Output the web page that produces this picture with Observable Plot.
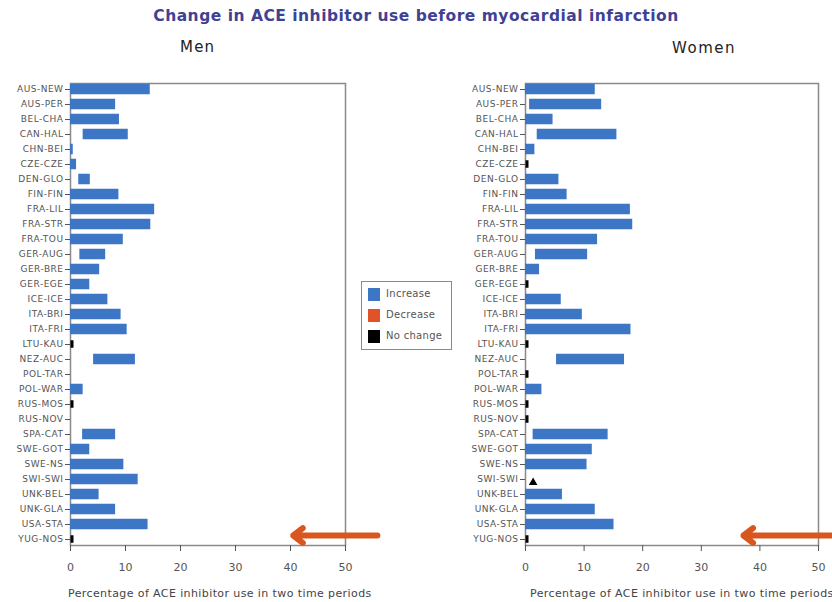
<!DOCTYPE html>
<html>
<head>
<meta charset="utf-8">
<script src="https://cdn.jsdelivr.net/npm/d3@7"></script>
<script src="https://cdn.jsdelivr.net/npm/@observablehq/plot@0.6"></script>
<style>
  html, body { margin: 0; padding: 0; background: #fff; width: 832px; height: 602px; overflow: hidden; }
  #wrap { position: relative; width: 832px; height: 602px; font-family: "DejaVu Sans", sans-serif; }
  .abs { position: absolute; white-space: nowrap; }
  #title { left: 0; width: 832px; top: 7px; text-align: center; font-weight: bold; font-size: 15.5px; letter-spacing: 0.5px; color: #3f4294; }
  .panel-title { font-size: 15px; color: #222; }
  .xlabel { font-size: 11px; letter-spacing: 0.4px; color: #444; }
  #legend { left: 361px; top: 281px; width: 89px; height: 67px; border: 1.5px solid #8a8a8a; background: #fff; z-index: 5; }
  .sw { position: absolute; left: 6px; width: 12px; height: 13px; }
  .lt { position: absolute; left: 24px; font-size: 10px; letter-spacing: 0.3px; color: #555; }
  svg { overflow: visible; }
  #men svg g[aria-label="y-axis tick label"] text, #women svg g[aria-label="y-axis tick label"] text { letter-spacing: 0.5px; }
</style>
</head>
<body>
<div id="wrap">
  <div id="title" class="abs">Change in ACE inhibitor use before myocardial infarction</div>
  <div class="abs panel-title" style="left:180px; top:38px; letter-spacing:1.2px;">Men</div>
  <div class="abs panel-title" style="left:672px; top:39px; letter-spacing:1.5px;">Women</div>
  <div id="men" class="abs" style="left:0; top:0;"></div>
  <div id="women" class="abs" style="left:440px; top:0;"></div>
  <div class="abs xlabel" style="left:68px; top:587px;">Percentage of ACE inhibitor use in two time periods</div>
  <div class="abs xlabel" style="left:530px; top:587px;">Percentage of ACE inhibitor use in two time periods</div>
  <div id="legend" class="abs"></div>
</div>
<script>
// ---- Data ----
const centres = ["AUS-NEW","AUS-PER","BEL-CHA","CAN-HAL","CHN-BEI","CZE-CZE","DEN-GLO","FIN-FIN",
  "FRA-LIL","FRA-STR","FRA-TOU","GER-AUG","GER-BRE","GER-EGE","ICE-ICE","ITA-BRI","ITA-FRI",
  "LTU-KAU","NEZ-AUC","POL-TAR","POL-WAR","RUS-MOS","RUS-NOV","SPA-CAT","SWE-GOT","SWE-NS",
  "SWI-SWI","UNK-BEL","UNK-GLA","USA-STA","YUG-NOS"];

// percentage in first period -> second period (null = not shown)
const menFrom = [0, 0, 0, 2.3, 0, 0, 1.5, 0, 0, 0, 0, 1.7, 0, 0, 0, 0, 0, 0, 4.2, null, 0, 0, null, 2.2, 0, 0, 0, 0, 0, 0, 0];
const menTo   = [14.5, 8.2, 8.9, 10.5, 0.5, 1.1, 3.6, 8.8, 15.3, 14.6, 9.6, 6.4, 5.3, 3.5, 6.8, 9.2, 10.3, 0, 11.8, null, 2.3, 0, null, 8.2, 3.5, 9.7, 12.3, 5.2, 8.2, 14.1, 0];

const womenFrom = [0, 0.7, 0, 2.0, 0, 0, 0, 0, 0, 0, 0, 1.7, 0, 0, 0, 0, 0, 0, 5.3, 0, 0, 0, 0, 1.3, 0, 0, null, 0, 0, 0, 0];
const womenTo   = [11.9, 13.0, 4.7, 15.6, 1.6, 0, 5.7, 7.1, 17.9, 18.3, 12.3, 10.6, 2.4, 0, 6.1, 9.7, 18.0, 0, 16.9, 0, 2.8, 0, 0, 14.1, 11.4, 10.5, null, 6.3, 11.9, 15.1, 0];

// extra marker (women, SWI-SWI)
const womenMarkerCentre = ["SWI-SWI"];
const womenMarkerX = [1.3];

const xTicks = [0, 10, 20, 30, 40, 50];
const legendLabels = ["Increase", "Decrease", "No change"];
const legendColors = ["#3d76c5", "#e0532a", "#000000"];

// annotation arrows (data units)
const menArrow = {from: 55.8, to: 40.5, centre: "YUG-NOS"};
const womenArrow = {from: 52.6, to: 37.2, centre: "YUG-NOS"};

// ---- Build ----
function rows(from, to) {
  return centres.map((c, i) => ({centre: c, from: from[i], to: to[i]}))
    .filter(d => d.from != null && d.to != null);
}

function panel(from, to, arrow, opts, markers) {
  const data = rows(from, to);
  const inc = data.filter(d => d.to > d.from);
  const dec = data.filter(d => d.to < d.from);
  const same = data.filter(d => d.to === d.from);
  const marks = [
    Plot.frame({stroke: "#8a8a8a", strokeWidth: 1.5}),
    Plot.barX(inc, {x1: "from", x2: "to", y: "centre", fill: legendColors[0]}),
    Plot.barX(dec, {x1: "from", x2: "to", y: "centre", fill: legendColors[1]}),
    Plot.tickX(same, {x: "from", y: "centre", stroke: legendColors[2], strokeWidth: 3, dx: 1.5, inset: 1.5}),
    Plot.axisX({ticks: xTicks, tickSize: 6, tickPadding: 12, label: null, fontSize: 11}),
    Plot.axisY({tickSize: 5, tickPadding: 2, label: null, fontSize: 9}),
    Plot.arrow([arrow], {x1: "from", x2: "to", y1: "centre", y2: "centre", stroke: "#d9561f",
      strokeWidth: 6, headLength: 3, headAngle: 75, dy: -4})
  ];
  if (markers) {
    marks.push(Plot.dot(markers, {x: "x", y: "centre", symbol: "triangle", fill: "#000", r: 3.2, dy: 3}));
  }
  return Plot.plot({
    width: opts.width,
    height: 602,
    marginLeft: opts.marginLeft,
    marginRight: opts.marginRight,
    marginTop: 83,
    marginBottom: 57,
    style: {fontFamily: "DejaVu Sans, sans-serif", color: "#555", background: "transparent", overflow: "visible"},
    x: {domain: [0, 50]},
    y: {domain: centres, paddingInner: 0.3, paddingOuter: 0.05, round: false},
    marks
  });
}

document.getElementById("men").appendChild(
  panel(menFrom, menTo, menArrow, {width: 420, marginLeft: 70, marginRight: 75}));

const wMarkers = womenMarkerCentre.map((c, i) => ({centre: c, x: womenMarkerX[i]}));
document.getElementById("women").appendChild(
  panel(womenFrom, womenTo, womenArrow, {width: 392, marginLeft: 85, marginRight: 14}, wMarkers));

// legend
const lg = document.getElementById("legend");
legendLabels.forEach((t, i) => {
  const s = document.createElement("div");
  s.className = "sw";
  s.style.top = (6 + i * 21) + "px";
  s.style.background = legendColors[i];
  lg.appendChild(s);
  const l = document.createElement("div");
  l.className = "lt";
  l.style.top = (6 + i * 21) + "px";
  l.textContent = t;
  lg.appendChild(l);
});
</script>
</body>
</html>
